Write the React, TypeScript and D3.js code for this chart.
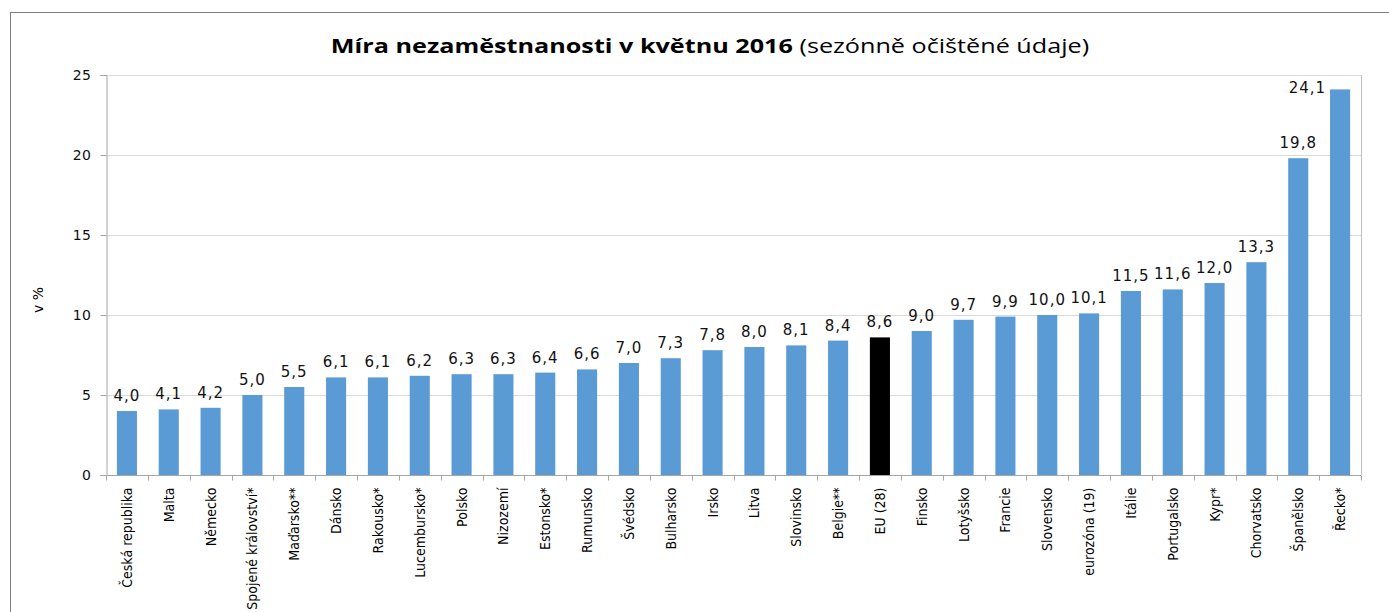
import * as d3 from 'd3';
import React, { useEffect, useRef } from 'react';

const countries = [
  'Česká republika', 'Malta', 'Německo', 'Spojené království*', 'Maďarsko**', 'Dánsko',
  'Rakousko*', 'Lucembursko*', 'Polsko', 'Nizozemí', 'Estonsko*', 'Rumunsko', 'Švédsko',
  'Bulharsko', 'Irsko', 'Litva', 'Slovinsko', 'Belgie**', 'EU (28)', 'Finsko', 'Lotyšsko',
  'Francie', 'Slovensko', 'eurozóna (19)', 'Itálie', 'Portugalsko', 'Kypr*', 'Chorvatsko',
  'Španělsko', 'Řecko*',
];
const rates = [
  4.0, 4.1, 4.2, 5.0, 5.5, 6.1, 6.1, 6.2, 6.3, 6.3, 6.4, 6.6, 7.0, 7.3, 7.8, 8.0, 8.1, 8.4,
  8.6, 9.0, 9.7, 9.9, 10.0, 10.1, 11.5, 11.6, 12.0, 13.3, 19.8, 24.1,
];
const yTicks = [0, 5, 10, 15, 20, 25];
const highlight = 'EU (28)';

const width = 1389;
const height = 612;
const margin = { top: 75, right: 28, bottom: 137, left: 106 };

export default function App() {
  const ref = useRef<SVGSVGElement>(null);

  useEffect(() => {
    const svg = d3.select(ref.current);
    svg.selectAll('*').remove();

    const data = countries.map((c, i) => ({ c, v: rates[i] }));

    // outer chart frame
    svg.append('rect')
      .attr('x', 10.5).attr('y', 12.5)
      .attr('width', width + 20).attr('height', height + 20)
      .attr('fill', 'white').attr('stroke', '#7f7f7f').attr('stroke-width', 1);

    // title (stretched a bit horizontally like the original)
    const title = svg.append('text')
      .attr('transform', 'translate(710,53) scale(1.26,1)')
      .attr('text-anchor', 'middle')
      .style('font-family', '"Open Sans", sans-serif')
      .style('font-size', '20px')
      .attr('fill', '#000');
    title.append('tspan').attr('font-weight', 'bold').text('Míra nezaměstnanosti v květnu 2016 ');
    title.append('tspan').text('(sezónně očištěné údaje)');

    const x = d3.scaleBand()
      .domain(countries)
      .range([margin.left, width - margin.right])
      .paddingInner(0.52).paddingOuter(0.26);

    const y = d3.scaleLinear()
      .domain([0, 25])
      .range([height - margin.bottom, margin.top]);

    // gridlines
    svg.append('g')
      .selectAll('line')
      .data(yTicks.filter(d => d > 0))
      .enter().append('line')
      .attr('x1', margin.left).attr('x2', width - margin.right)
      .attr('y1', d => Math.round(y(d)) + 0.5).attr('y2', d => Math.round(y(d)) + 0.5)
      .attr('stroke', '#d9d9d9');

    // right border of plot
    svg.append('line')
      .attr('x1', width - margin.right + 0.5).attr('x2', width - margin.right + 0.5)
      .attr('y1', y(25)).attr('y2', y(0))
      .attr('stroke', '#bfbfbf');

    // bars
    svg.append('g')
      .selectAll('rect')
      .data(data)
      .enter().append('rect')
      .attr('x', d => x(d.c)!)
      .attr('y', d => y(d.v))
      .attr('width', x.bandwidth())
      .attr('height', d => y(0) - y(d.v))
      .attr('fill', d => d.c === highlight ? '#000000' : '#5b9bd5');

    // value labels, the top one goes beside its bar
    const tooHigh = (v: number) => y(v) - 24 < margin.top;
    svg.append('g')
      .selectAll('text')
      .data(data)
      .enter().append('text')
      .attr('x', d => tooHigh(d.v) ? x(d.c)! - 4 : x(d.c)! + x.bandwidth() / 2)
      .attr('y', d => tooHigh(d.v) ? y(d.v) + 4 : y(d.v) - 10)
      .attr('text-anchor', d => tooHigh(d.v) ? 'end' : 'middle')
      .style('font-family', '"DejaVu Sans", sans-serif')
      .style('font-size', '15px')
      .style('letter-spacing', '1px')
      .attr('fill', '#111')
      .text(d => d3.format('.1f')(d.v).replace('.', ','));

    // y axis
    const yAxis = svg.append('g')
      .attr('transform', `translate(${margin.left + 0.5},0)`)
      .call(d3.axisLeft(y).tickValues(yTicks).tickSize(6).tickPadding(9).tickFormat(d3.format('d')));
    yAxis.selectAll('path, line').attr('stroke', '#a6a6a6');
    yAxis.selectAll('text')
      .style('font-family', '"DejaVu Sans", sans-serif')
      .style('font-size', '14px')
      .style('letter-spacing', '0.5px')
      .attr('fill', '#111');

    // x axis
    const xAxis = svg.append('g')
      .attr('transform', `translate(0,${Math.round(y(0)) + 0.5})`);
    xAxis.append('line')
      .attr('x1', margin.left).attr('x2', width - margin.right)
      .attr('stroke', '#a6a6a6');
    const step = x.step();
    xAxis.selectAll('line.tick')
      .data(d3.range(countries.length + 1))
      .enter().append('line')
      .attr('class', 'tick')
      .attr('x1', i => Math.round(margin.left + i * step) + 0.5)
      .attr('x2', i => Math.round(margin.left + i * step) + 0.5)
      .attr('y1', 0).attr('y2', 5)
      .attr('stroke', '#a6a6a6');
    xAxis.selectAll('text')
      .data(countries)
      .enter().append('text')
      .attr('transform', c => `translate(${x(c)! + x.bandwidth() / 2 + 5},12) rotate(-90)`)
      .attr('text-anchor', 'end')
      .style('font-family', '"Liberation Sans Narrow", "DejaVu Sans Condensed", sans-serif')
      .style('font-size', '14px')
      .attr('fill', '#000')
      .text(c => c);

    // y label
    svg.append('text')
      .attr('transform', 'translate(43,300) rotate(-90)')
      .attr('text-anchor', 'middle')
      .style('font-family', '"DejaVu Sans", sans-serif')
      .style('font-size', '14px')
      .attr('fill', '#000')
      .text('v %');
  }, []);

  return (
    <svg
      ref={ref}
      width={width}
      height={height}
      style={{ position: 'absolute', left: 0, top: 0, background: 'white' }}
    />
  );
}
